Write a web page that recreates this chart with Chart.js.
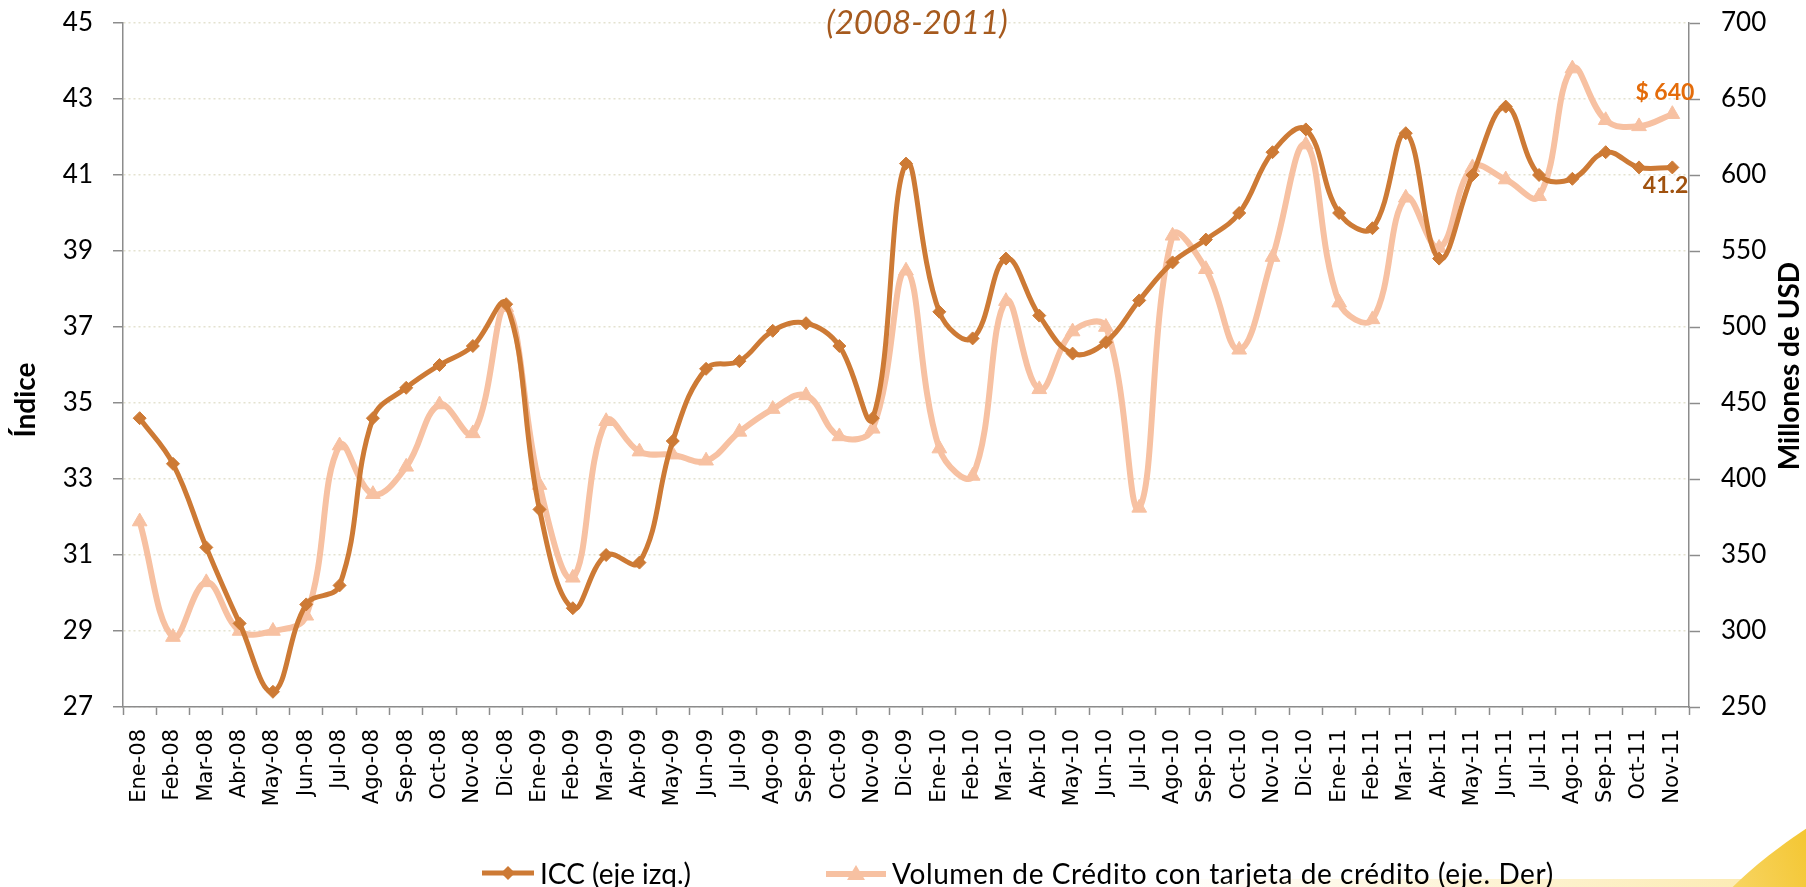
<!DOCTYPE html>
<html>
<head>
<meta charset="utf-8">
<script src="https://cdn.jsdelivr.net/npm/chart.js@4.4.0/dist/chart.umd.min.js"></script>
<style>
html, body { margin: 0; padding: 0; background: #fff; overflow: hidden; }
#wrap { position: relative; width: 1806px; height: 887px; overflow: hidden; }
#chart { position: absolute; left: 0; top: 0; }
#swoosh { position: absolute; left: 1690px; top: 852px; width: 800px; height: 260px; border-radius: 50%;
  background: linear-gradient(to right, #fbe08a 0%, #f3c42a 22%, #f0bd1a 100%);
  transform: rotate(-20deg); transform-origin: 0 50%; }
#strip { position: absolute; left: 1150px; top: 879px; width: 700px; height: 12px;
  background: linear-gradient(to right, rgba(255,240,190,0), rgba(250,222,130,0.7)); }
#title { position: absolute; left: 767px; width: 300px; top: 3px; text-align: center;
  font: italic 33px Lato; color: #a65a1e; line-height: 36px; }
.item { position: absolute; top: 855px; height: 36px; display: flex; align-items: center;
  font: 28px Lato; color: #000; white-space: nowrap; }
.item svg { margin-right: 6px; }
</style>
</head>
<body>
<div id="wrap">
  <div id="strip"></div>
  <div id="swoosh"></div>
  <canvas id="chart" width="1806" height="887"></canvas>
  <div id="title">(2008-2011)</div>
  <div class="item" style="left:482px">
    <svg width="52" height="20"><line x1="0" y1="10" x2="52" y2="10" stroke="#cd7a35" stroke-width="5"/><polygon points="26,3 33,10 26,17 19,10" fill="#cd7a35"/></svg>
    <span>ICC (eje izq.)</span>
  </div>
  <div class="item" style="left:826px">
    <svg width="60" height="22"><line x1="0" y1="12" x2="60" y2="12" stroke="#f7c1a2" stroke-width="6"/><polygon points="30,3 39,18 21,18" fill="#f7c1a2"/></svg>
    <span style="letter-spacing:0.6px">Volumen de Crédito con tarjeta de crédito (eje. Der)</span>
  </div>
</div>
<script>
var months = [
  'Ene-08', 'Feb-08', 'Mar-08', 'Abr-08', 'May-08', 'Jun-08', 'Jul-08', 'Ago-08', 'Sep-08', 'Oct-08', 'Nov-08', 'Dic-08',
  'Ene-09', 'Feb-09', 'Mar-09', 'Abr-09', 'May-09', 'Jun-09', 'Jul-09', 'Ago-09', 'Sep-09', 'Oct-09', 'Nov-09', 'Dic-09',
  'Ene-10', 'Feb-10', 'Mar-10', 'Abr-10', 'May-10', 'Jun-10', 'Jul-10', 'Ago-10', 'Sep-10', 'Oct-10', 'Nov-10', 'Dic-10',
  'Ene-11', 'Feb-11', 'Mar-11', 'Abr-11', 'May-11', 'Jun-11', 'Jul-11', 'Ago-11', 'Sep-11', 'Oct-11', 'Nov-11'
];

// ICC (left axis)
var iccValues = [
  34.6, 33.4, 31.2, 29.2, 27.4, 29.7, 30.2, 34.6, 35.4, 36.0, 36.5, 37.6,
  32.2, 29.6, 31.0, 30.8, 34.0, 35.9, 36.1, 36.9, 37.1, 36.5, 34.6, 41.3,
  37.4, 36.7, 38.8, 37.3, 36.3, 36.6, 37.7, 38.7, 39.3, 40.0, 41.6, 42.2,
  40.0, 39.6, 42.1, 38.8, 41.0, 42.8, 41.0, 40.9, 41.6, 41.2, 41.2
];

// credit card volume, millions USD (right axis)
var volumeValues = [
  372, 296, 332, 300, 300, 310, 422, 390, 408, 449, 430, 513,
  396, 335, 438, 418, 416, 412, 431, 446, 455, 428, 433, 537,
  420, 402, 517, 459, 497, 500, 381, 560, 538, 485, 546, 620,
  516, 505, 585, 552, 605, 597, 586, 670, 636, 632, 640
];

var leftAxis = [27, 45, 2];
var rightAxis = [250, 700, 50];

var iccColor = '#cd7a35';
var volColor = '#f7c1a2';
var axisGray = '#8c8c8c';

// last point labels + axis titles
var extras = {
    id: 'extras',
    afterDatasetsDraw: function (chart) {
        var ctx = chart.ctx;
        var last = months.length - 1;
        var p0 = chart.getDatasetMeta(0).data[last];
        var p1 = chart.getDatasetMeta(1).data[last];
        ctx.save();
        ctx.font = 'bold 23px Lato';
        ctx.textAlign = 'right';
        ctx.textBaseline = 'middle';
        ctx.fillStyle = '#e46c0a';
        ctx.fillText('$ ' + volumeValues[last], p1.x + 22, p1.y - 22);
        ctx.fillStyle = '#a0520f';
        ctx.fillText(iccValues[last].toFixed(1), p0.x + 16, p0.y + 18);

        ctx.fillStyle = '#000';
        ctx.font = 'bold 28px Lato';
        ctx.textAlign = 'center';
        ctx.translate(26, 400);
        ctx.rotate(-Math.PI / 2);
        ctx.fillText('Índice', 0, 0);
        ctx.restore();

        ctx.save();
        ctx.fillStyle = '#000';
        ctx.font = 'bold 28px Lato';
        ctx.textAlign = 'center';
        ctx.textBaseline = 'middle';
        ctx.translate(1790, 366);
        ctx.rotate(-Math.PI / 2);
        ctx.fillText('Millones de USD', 0, 0);
        ctx.restore();
    }
};

function fixY(width) {
    return function (s) {
        s.width = width;
        s.paddingTop = 0;
        s.paddingBottom = 0;
    };
}

new Chart(document.getElementById('chart').getContext('2d'), {
    type: 'line',
    data: {
        labels: months,
        datasets: [{
            label: 'ICC (eje izq.)',
            data: iccValues,
            yAxisID: 'y',
            borderColor: iccColor,
            backgroundColor: iccColor,
            borderWidth: 5,
            pointStyle: 'rectRot',
            pointRadius: 6.5,
            pointBorderWidth: 1,
            tension: 0.4,
            order: 1
        }, {
            label: 'Volumen de Crédito con tarjeta de crédito (eje. Der)',
            data: volumeValues,
            yAxisID: 'y1',
            borderColor: volColor,
            backgroundColor: volColor,
            borderWidth: 6,
            pointStyle: 'triangle',
            pointRadius: 8.5,
            pointBorderWidth: 1,
            tension: 0.4,
            order: 2
        }]
    },
    options: {
        responsive: false,
        animation: false,
        layout: { padding: { top: 23, left: 0, right: 0, bottom: 0 } },
        plugins: {
            legend: { display: false },
            tooltip: { enabled: false }
        },
        scales: {
            x: {
                offset: true,
                grid: { offset: true, drawOnChartArea: false, tickLength: 8, tickColor: axisGray, tickWidth: 1.5 },
                border: { color: axisGray, width: 1.5 },
                ticks: {
                    autoSkip: false, maxRotation: 90, minRotation: 90, padding: 14,
                    color: '#000', font: { family: 'DejaVu Sans', size: 21 }
                },
                afterFit: function (s) { s.height = 180; s.paddingLeft = 0; s.paddingRight = 0; }
            },
            y: {
                position: 'left',
                min: leftAxis[0], max: leftAxis[1],
                ticks: { stepSize: leftAxis[2], padding: 20, color: '#000', font: { family: 'Lato', size: 26 } },
                grid: { color: '#e4e2cf', lineWidth: 1.5, tickColor: axisGray, tickLength: 10, tickWidth: 1.5, tickBorderDash: [] },
                border: { color: axisGray, width: 1.5, dash: [2, 3] },
                afterFit: fixY(123)
            },
            y1: {
                position: 'right',
                min: rightAxis[0], max: rightAxis[1],
                ticks: { stepSize: rightAxis[2], padding: 21, color: '#000', font: { family: 'Lato', size: 26 } },
                grid: { drawOnChartArea: false, tickColor: axisGray, tickLength: 11, tickWidth: 1.5 },
                border: { color: axisGray, width: 1.5 },
                afterFit: fixY(117)
            }
        }
    },
    plugins: [extras]
});
</script>
</body>
</html>
